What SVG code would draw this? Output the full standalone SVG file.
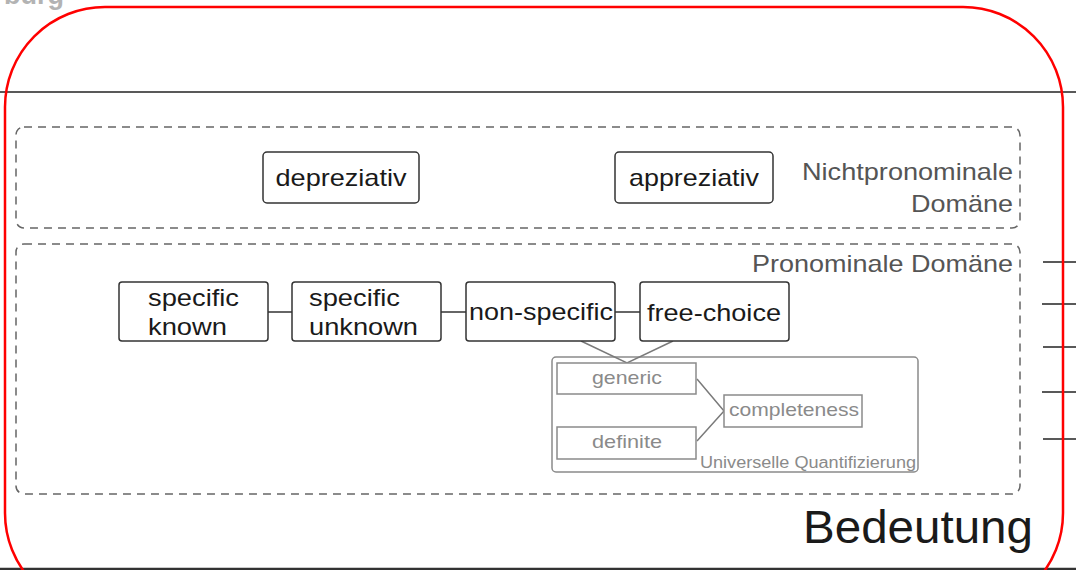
<svg xmlns="http://www.w3.org/2000/svg" width="1076" height="570" viewBox="0 0 1076 570">
  <style>
    .t { font-family: "Liberation Sans", Arial, sans-serif; }
    .node rect { fill: #fff; stroke: #333; stroke-width: 1.5; }
    .node text { fill: #1a1a1a; font-size: 24px; }
    .uq rect { fill: #fff; stroke: #8a8a8a; stroke-width: 1.5; }
    .uq text { fill: #8a8a8a; font-size: 19px; }
    .domain { fill: none; stroke: #666; stroke-width: 1.5; stroke-dasharray: 8 6; }
    .dlabel { fill: #555; font-size: 24px; }
    .link { stroke: #333; stroke-width: 1.5; fill: none; }
    .link-soft { stroke: #7a7a7a; stroke-width: 1.5; fill: none; }
    .rule { stroke: #222; stroke-width: 1.5; }
  </style>

  <rect width="1076" height="570" fill="#fff"/>

  <!-- page header remnant -->
  <text class="t" x="64" y="4" text-anchor="end" font-size="27" font-weight="bold" fill="#b3b3b3">burg</text>

  <!-- horizontal rules -->
  <line class="rule" x1="0" y1="92" x2="1076" y2="92"/>
  <line x1="0" y1="569" x2="1076" y2="569" stroke="#333" stroke-width="2.5"/>

  <!-- tick marks on the right edge -->
  <g id="ticks" stroke="#222" stroke-width="1.5">
    <line x1="1043" y1="262" x2="1076" y2="262"/>
    <line x1="1042" y1="304" x2="1076" y2="304"/>
    <line x1="1043" y1="347" x2="1076" y2="347"/>
    <line x1="1042" y1="392" x2="1076" y2="392"/>
    <line x1="1043" y1="439" x2="1076" y2="439"/>
  </g>

  <!-- domain frames -->
  <g id="domain-nonpronominal">
    <rect class="domain" x="16" y="127" width="1004" height="101" rx="8"/>
    <text class="t dlabel" x="1013" y="180" text-anchor="end" textLength="211" lengthAdjust="spacingAndGlyphs">Nichtpronominale</text>
    <text class="t dlabel" x="1013" y="212" text-anchor="end" textLength="102" lengthAdjust="spacingAndGlyphs">Domäne</text>
  </g>
  <g id="domain-pronominal">
    <rect class="domain" x="16" y="244" width="1004" height="250" rx="8"/>
    <text class="t dlabel" x="1013" y="272" text-anchor="end" textLength="261" lengthAdjust="spacingAndGlyphs">Pronominale Domäne</text>
  </g>

  <!-- universal quantification frame (drawn beneath its connectors) -->
  <g id="universal-quantification" class="uq">
    <rect x="552" y="357" width="366" height="115" rx="4"/>
    <text class="t" x="916" y="468" text-anchor="end" style="font-size:16px" textLength="216" lengthAdjust="spacingAndGlyphs">Universelle Quantifizierung</text>
  </g>

  <!-- connectors -->
  <g id="connectors">
    <line class="link" x1="268" y1="312" x2="292" y2="312"/>
    <line class="link" x1="441" y1="312" x2="466" y2="312"/>
    <line class="link" x1="615" y1="312" x2="640" y2="312"/>
    <polyline class="link-soft" points="581,341 627,363 673,341"/>
    <polyline class="link-soft" points="697,379 724,411 697,441"/>
  </g>

  <!-- non-pronominal nodes -->
  <g id="depreziativ" class="node">
    <rect x="263" y="152" width="156" height="51" rx="4"/>
    <text class="t" x="341" y="186" text-anchor="middle" textLength="131" lengthAdjust="spacingAndGlyphs">depreziativ</text>
  </g>
  <g id="appreziativ" class="node">
    <rect x="615" y="152" width="158" height="51" rx="4"/>
    <text class="t" x="694" y="186" text-anchor="middle" textLength="130" lengthAdjust="spacingAndGlyphs">appreziativ</text>
  </g>

  <!-- pronominal chain -->
  <g id="specific-known" class="node">
    <rect x="119" y="282" width="149" height="59" rx="3"/>
    <text class="t" x="148" y="306" textLength="91" lengthAdjust="spacingAndGlyphs">specific</text>
    <text class="t" x="148" y="335" textLength="79" lengthAdjust="spacingAndGlyphs">known</text>
  </g>
  <g id="specific-unknown" class="node">
    <rect x="292" y="282" width="149" height="59" rx="3"/>
    <text class="t" x="309" y="306" textLength="91" lengthAdjust="spacingAndGlyphs">specific</text>
    <text class="t" x="309" y="335" textLength="109" lengthAdjust="spacingAndGlyphs">unknown</text>
  </g>
  <g id="non-specific" class="node">
    <rect x="466" y="282" width="149" height="59" rx="3"/>
    <text class="t" x="541" y="320" text-anchor="middle" textLength="144" lengthAdjust="spacingAndGlyphs">non-specific</text>
  </g>
  <g id="free-choice" class="node">
    <rect x="640" y="282" width="149" height="59" rx="3"/>
    <text class="t" x="714" y="321" text-anchor="middle" textLength="134" lengthAdjust="spacingAndGlyphs">free-choice</text>
  </g>

  <!-- members of the universal quantification cluster -->
  <g id="generic" class="uq">
    <rect x="557" y="363" width="139" height="31"/>
    <text class="t" x="627" y="384" text-anchor="middle" textLength="70" lengthAdjust="spacingAndGlyphs">generic</text>
  </g>
  <g id="definite" class="uq">
    <rect x="557" y="427" width="139" height="32"/>
    <text class="t" x="627" y="448" text-anchor="middle" textLength="70" lengthAdjust="spacingAndGlyphs">definite</text>
  </g>
  <g id="completeness" class="uq">
    <rect x="724" y="395" width="138" height="32"/>
    <text class="t" x="794" y="416" text-anchor="middle" textLength="130" lengthAdjust="spacingAndGlyphs">completeness</text>
  </g>

  <!-- outer frame and title -->
  <g id="bedeutung">
    <rect x="5" y="7" width="1058" height="606" rx="100" fill="none" stroke="#f00" stroke-width="2.5"/>
    <text class="t" x="1033" y="543" text-anchor="end" font-size="46" fill="#1a1a1a" textLength="230" lengthAdjust="spacingAndGlyphs">Bedeutung</text>
  </g>
</svg>
